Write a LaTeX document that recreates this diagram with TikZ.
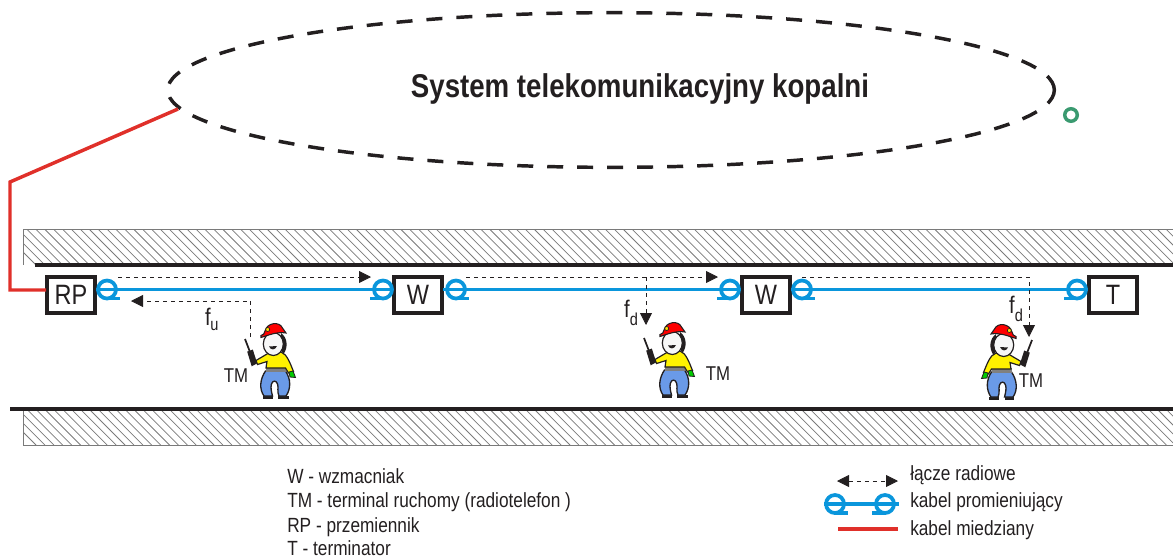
\documentclass[tikz,border=0pt]{standalone}
\usepackage{fontspec}
\usetikzlibrary{arrows.meta,shapes.geometric}
\setmainfont[FakeStretch=0.84]{Liberation Sans}
\definecolor{cablecol}{HTML}{0A96DC}
\definecolor{coppercol}{HTML}{E0302A}
\definecolor{ringcol}{HTML}{3A9A70}
\definecolor{inkcol}{HTML}{231F20}
\definecolor{hatchcol}{HTML}{7A7A7A}
\definecolor{trousercol}{HTML}{6A9AE8}
\tikzset{
  wire/.style={line width=2.8pt,draw=cablecol},
  copper/.style={line width=2.6pt,draw=coppercol},
  wall/.style={line width=3pt,draw=inkcol},
  unitbox/.style={draw=inkcol,fill=white,line width=2.5pt,minimum width=36pt,minimum height=27pt,inner sep=0pt,outer sep=0pt,font=\fontsize{21}{21}\selectfont,text=inkcol},
  radiolink/.style={draw=inkcol,line width=0.6pt,dash pattern=on 3pt off 3pt,-{Triangle[length=9pt,width=9pt,fill=inkcol]}},
  caption/.style={anchor=west,inner sep=0pt,font=\fontsize{15.4}{15.4}\selectfont,text=inkcol},
  tmlabel/.style={inner sep=0pt,font=\fontsize{15}{15}\selectfont,text=inkcol},
  freqf/.style={inner sep=0pt,font=\fontsize{18}{18}\selectfont,text=inkcol},
  freqsub/.style={inner sep=0pt,font=\fontsize{13}{13}\selectfont,text=inkcol},
  antennaloop/.pic={
    \draw[wire] (0,0) circle (9);
    \draw[wire] (0,9) -- (13,9);
  },
  miner/.pic={
    % radio
    \draw[inkcol,line width=1.3pt] (-31,-59) -- (-26,-46);
    \fill[inkcol] (-28.8,-46.3) -- (-23.2,-48.5) -- (-18.8,-34.7) -- (-24.3,-31.7) -- cycle;
    % shoes
    \fill[inkcol] (-13,-2.5) rectangle (-3.5,0.5);
    \fill[inkcol] (2,-2.5) rectangle (12.5,0.5);
    % trousers
    \draw[inkcol,line width=1pt,fill=trousercol] (-10.5,-27) -- (9.5,-27)
      .. controls (15,-19) and (15,-9) .. (10,-2) -- (3,-2)
      .. controls (1,-6) and (2.5,-11) .. (1.7,-13.5)
      .. controls (0.5,-18) and (-3.5,-18) .. (-4.7,-13.5)
      .. controls (-5.5,-10) and (-4.5,-6) .. (-3.5,-2) -- (-12,-2)
      .. controls (-17,-9) and (-16,-19) .. cycle;
    % belt
    \fill[gray] (-10.5,-31) rectangle (9.5,-26);
    % shirt and arms
    \draw[inkcol,line width=0.9pt,fill=yellow] (-4.3,-47) -- (5,-46)
      .. controls (11,-44) and (14,-35) .. (17.5,-26.5) -- (12.5,-25)
      -- (9.5,-30) -- (-10,-30) -- (-9,-36.5)
      -- (-18.5,-33.5) -- (-20,-37.5) -- (-9,-44) -- cycle;
    % hand
    \draw[inkcol,line width=0.6pt,fill=green!80!black] (13,-26) -- (17,-27) -- (19.5,-20.5) -- (14,-21) -- cycle;
    % hair
    \fill[inkcol] (5,-65) .. controls (12,-60) and (12,-50) .. (7.5,-44) -- (4,-50) -- cycle;
    % head
    \draw[inkcol,line width=0.9pt,fill=white!94!gray] (-2.7,-54) ellipse (10 and 11.5);
    \fill[inkcol] (-7,-51.5) .. controls (-5,-47.5) and (-1,-47.5) .. (1,-52) -- cycle;
    % helmet
    \draw[inkcol,line width=0.8pt,fill=red] (-15,-62.5) .. controls (-12.5,-63) and (-11.5,-64.5) .. (-11,-67)
      .. controls (-9,-75.5) and (3.5,-77) .. (6.5,-70)
      .. controls (7.5,-68) and (8.5,-67) .. (10,-65)
      .. controls (1,-66.5) and (-7,-63) .. (-15,-60.5) -- cycle;
    \draw[inkcol,line width=0.5pt,fill=yellow!80!orange] (-8.3,-68.5) circle (2);
  }
}
\begin{document}
\begin{tikzpicture}[x=0.75pt,y=-0.75pt]
  \useasboundingbox (0,0) rectangle (1173,558);

  % hatched rock above and below the gallery
  \begin{scope}
    \clip (23,229) rectangle (1173,265);
    \foreach \h in {0,8.9,...,1230}
      \draw[hatchcol,line width=0.55pt] (\h,229) -- ++(36,36);
  \end{scope}
  \draw[hatchcol,line width=0.6pt] (1173,229) -- (23,229) -- (23,265);
  \begin{scope}
    \clip (23,409) rectangle (1173,445);
    \foreach \h in {0,8.9,...,1230}
      \draw[hatchcol,line width=0.55pt] (\h,409) -- ++(36,36);
  \end{scope}
  \draw[hatchcol,line width=0.6pt] (23,409) -- (23,445) -- (1173,445);
  \coordinate (roofL) at (35,265);
  \coordinate (roofR) at (1173,265);
  \coordinate (floorL) at (10,409);
  \coordinate (floorR) at (1173,409);
  \draw[wall] (roofL) -- (roofR);
  \draw[wall] (floorL) -- (floorR);

  % mine telecommunication system cloud
  \node[ellipse,draw=inkcol,line width=2.6pt,dash pattern=on 12pt off 10.5pt,minimum width=665pt,minimum height=116pt,inner sep=0pt] (sys) at (611,90) {};
  \node[inner sep=0pt,font=\fontsize{24.7}{24.7}\selectfont\bfseries,text=inkcol] (title) at (640,89) {System telekomunikacyjny kopalni};
  \node[circle,draw=ringcol,line width=2.6pt,minimum size=9.4pt,inner sep=0pt] (ring) at (1071,115) {};

  % units along the radiating cable
  \node[unitbox] (rp) at (71,295) {RP};
  \node[unitbox] (w1) at (418,295) {W};
  \node[unitbox] (w2) at (766,295) {W};
  \node[unitbox] (t) at (1113,295) {T};

  % copper feed from the system to the repeater
  \coordinate (feedTop) at (178,109);
  \coordinate (feedBend) at (10,182);
  \coordinate (feedLow) at (10,290);
  \coordinate (rpIn) at (46,290);
  \draw[copper,line join=miter] (feedTop) -- (feedBend) -- (feedLow) -- (rpIn);

  % radiating cable sections
  \coordinate (a1) at (96,289.5);
  \coordinate (a2) at (393,289.5);
  \coordinate (b1) at (443,289.5);
  \coordinate (b2) at (741,289.5);
  \coordinate (c1) at (791,289.5);
  \coordinate (c2) at (1088,289.5);
  \draw[wire] (a1) -- (a2);
  \draw[wire] (b1) -- (b2);
  \draw[wire] (c1) -- (c2);
  \pic at (107,289.5) {antennaloop};
  \pic[xscale=-1] at (383,289.5) {antennaloop};
  \pic at (456,289.5) {antennaloop};
  \pic[xscale=-1] at (730,289.5) {antennaloop};
  \pic at (802,289.5) {antennaloop};
  \pic[xscale=-1] at (1077,289.5) {antennaloop};

  % radio paths above the cable
  \coordinate (p1s) at (118,277);
  \coordinate (p1e) at (371,277);
  \coordinate (p2s) at (466,277);
  \coordinate (p2e) at (718,277);
  \coordinate (p3s) at (802,277);
  \coordinate (p3c) at (1029,277);
  \coordinate (p3e) at (1029,337);
  \coordinate (d2s) at (646,277);
  \coordinate (d2e) at (646,325);
  \coordinate (u1s) at (250.5,337);
  \coordinate (u1c) at (250.5,301);
  \coordinate (u1e) at (131,301);
  \draw[radiolink] (p1s) -- (p1e);
  \draw[radiolink] (p2s) -- (p2e);
  \draw[radiolink] (p3s) -- (p3c) -- (p3e);
  \draw[radiolink] (d2s) -- (d2e);
  \draw[radiolink] (u1s) -- (u1c) -- (u1e);

  % frequency labels
  \node[freqf] (fu) at (208,317) {f};
  \node[freqsub] (fusub) at (214.5,326) {u};
  \node[freqf] (fd1) at (627,309) {f};
  \node[freqsub] (fd1sub) at (634,319) {d};
  \node[freqf] (fd2) at (1012,305) {f};
  \node[freqsub] (fd2sub) at (1019,315) {d};

  % mobile terminal users
  \pic at (276,398) {miner};
  \pic at (675,397) {miner};
  \pic[xscale=-1] at (1001,399) {miner};
  \node[tmlabel] (tm1) at (236,376) {TM};
  \node[tmlabel] (tm2) at (718,374) {TM};
  \node[tmlabel] (tm3) at (1031,381) {TM};

  % key to the abbreviations
  \node[caption] (k1) at (287,476.5) {W - wzmacniak};
  \node[caption] (k2) at (287,502) {TM - terminal ruchomy (radiotelefon )};
  \node[caption] (k3) at (287,527) {RP - przemiennik};
  \node[caption] (k4) at (287,548.5) {T - terminator};

  % key to the line styles
  \coordinate (l1a) at (837,481);
  \coordinate (l1b) at (898,481);
  \draw[draw=inkcol,line width=0.6pt,dash pattern=on 3pt off 3pt,{Triangle[length=9pt,width=9pt,fill=inkcol]}-{Triangle[length=9pt,width=9pt,fill=inkcol]}] (l1a) -- (l1b);
  \coordinate (l2a) at (824,504);
  \coordinate (l2b) at (899,504);
  \draw[wire] (l2a) -- (l2b);
  \pic at (835,504) {antennaloop};
  \pic[xscale=-1] at (885,504) {antennaloop};
  \coordinate (l3a) at (838,529);
  \coordinate (l3b) at (898,529);
  \draw[copper] (l3a) -- (l3b);
  \node[caption] (r1) at (910,475) {łącze radiowe};
  \node[caption] (r2) at (910,502) {kabel promieniujący};
  \node[caption] (r3) at (910,530) {kabel miedziany};
\end{tikzpicture}
\end{document}
